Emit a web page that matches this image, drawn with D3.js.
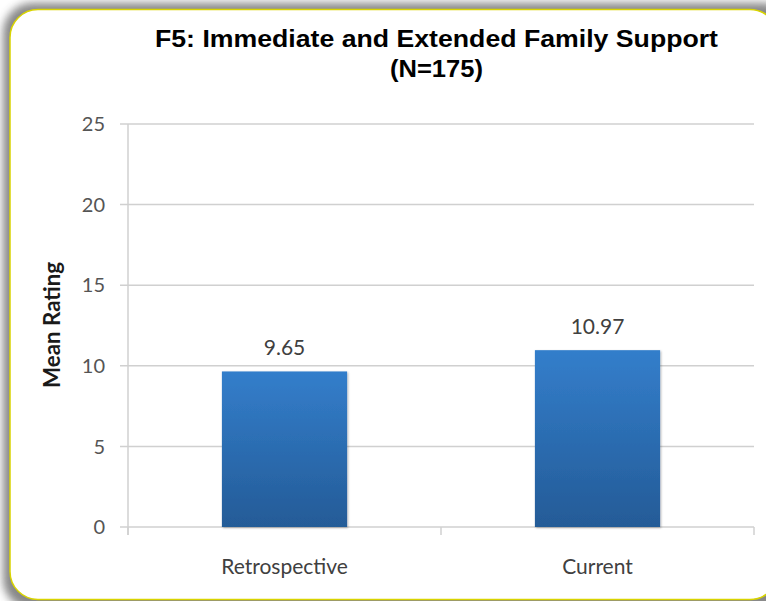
<!DOCTYPE html>
<html>
<head>
<meta charset="utf-8">
<script src="https://cdn.jsdelivr.net/npm/d3@7"></script>
<style>
  html, body { margin: 0; padding: 0; background: #ffffff; }
  svg { display: block; }
</style>
</head>
<body>
<svg id="chart" width="766" height="601"></svg>
<script>
// Chart data
const categories = ["Retrospective", "Current"];
const meanRatings = [9.65, 10.97];
const yTicks = [0, 5, 10, 15, 20, 25];
const titleLines = ["F5: Immediate and Extended Family Support", "(N=175)"];
const yAxisLabel = "Mean Rating";

const W = 766, H = 601;
const plot = { left: 128, right: 754, top: 124, bottom: 527 };

const svg = d3.select("#chart");
const defs = svg.append("defs");

// soft shadow around the card
const cardShadow = defs.append("filter").attr("id", "cardShadow")
  .attr("x", "-10%").attr("y", "-10%").attr("width", "120%").attr("height", "120%");
cardShadow.append("feGaussianBlur").attr("stdDeviation", 4);

// slight shadow under each bar
const barShadow = defs.append("filter").attr("id", "barShadow")
  .attr("x", "-10%").attr("y", "-10%").attr("width", "120%").attr("height", "120%");
barShadow.append("feDropShadow").attr("dx", 1).attr("dy", 1)
  .attr("stdDeviation", 1).attr("flood-color", "#000").attr("flood-opacity", 0.3);

// vertical blue gradient for bars
const grad = defs.append("linearGradient").attr("id", "barGrad")
  .attr("x1", 0).attr("y1", 0).attr("x2", 0).attr("y2", 1);
grad.append("stop").attr("offset", "0%").attr("stop-color", "#337ecb");
grad.append("stop").attr("offset", "100%").attr("stop-color", "#245b97");

// page background and card
svg.append("rect").attr("width", W).attr("height", H).attr("fill", "#ffffff");
svg.append("rect")
  .attr("x", 3).attr("y", 3).attr("width", 790).attr("height", 606)
  .attr("rx", 30).attr("fill", "#7a7a7a").attr("opacity", 0.9)
  .attr("filter", "url(#cardShadow)");
svg.append("rect")
  .attr("x", 10).attr("y", 9.5).attr("width", 768).attr("height", 590)
  .attr("rx", 28).attr("fill", "#ffffff")
  .attr("stroke", "#d9d400").attr("stroke-width", 1.5);

// scales
const x = d3.scaleBand().domain(categories).range([plot.left, plot.right]).padding(0);
const y = d3.scaleLinear().domain([0, 25]).range([plot.bottom, plot.top]);
const barW = x.bandwidth() * 0.4;

const gridColor = "#d0d0d0";

// horizontal gridlines
svg.append("g").selectAll("line").data(yTicks).join("line")
  .attr("x1", plot.left - 8).attr("x2", plot.right)
  .attr("y1", d => y(d)).attr("y2", d => y(d))
  .attr("stroke", gridColor).attr("stroke-width", 1.5);

// y axis line
svg.append("line")
  .attr("x1", plot.left).attr("x2", plot.left)
  .attr("y1", plot.top).attr("y2", plot.bottom + 8)
  .attr("stroke", gridColor).attr("stroke-width", 1.5);

// x axis category boundary ticks
const boundaries = [plot.left].concat(categories.map(c => x(c) + x.bandwidth()));
svg.append("g").selectAll("line").data(boundaries).join("line")
  .attr("x1", d => d).attr("x2", d => d)
  .attr("y1", plot.bottom).attr("y2", plot.bottom + 8)
  .attr("stroke", gridColor).attr("stroke-width", 1.5);

// y tick labels
svg.append("g").selectAll("text").data(yTicks).join("text")
  .attr("x", 105).attr("y", d => y(d)).attr("dy", "0.36em")
  .attr("text-anchor", "end")
  .attr("font-family", "Lato, 'Open Sans', sans-serif").attr("font-size", 20)
  .attr("fill", "#555555")
  .text(d => d);

// bars
const data = categories.map((c, i) => ({ cat: c, value: meanRatings[i] }));
svg.append("g").selectAll("rect").data(data).join("rect")
  .attr("x", d => x(d.cat) + (x.bandwidth() - barW) / 2)
  .attr("y", d => y(d.value))
  .attr("width", barW)
  .attr("height", d => y(0) - y(d.value))
  .attr("fill", "url(#barGrad)")
  .attr("filter", "url(#barShadow)");

// value labels
svg.append("g").selectAll("text").data(data).join("text")
  .attr("x", d => x(d.cat) + x.bandwidth() / 2)
  .attr("y", d => y(d.value) - 16)
  .attr("text-anchor", "middle")
  .attr("font-family", "Lato, 'Open Sans', sans-serif").attr("font-size", 21)
  .attr("fill", "#404040")
  .text(d => d.value.toFixed(2));

// category labels
svg.append("g").selectAll("text").data(categories).join("text")
  .attr("x", d => x(d) + x.bandwidth() / 2)
  .attr("y", 574)
  .attr("text-anchor", "middle")
  .attr("font-family", "Lato, 'Open Sans', sans-serif").attr("font-size", 21)
  .attr("fill", "#404040")
  .text(d => d);

// y axis title
svg.append("text")
  .attr("transform", "translate(60,325) rotate(-90)")
  .attr("text-anchor", "middle")
  .attr("font-family", "Lato, 'Open Sans', sans-serif").attr("font-size", 22)
  .attr("font-weight", "bold")
  .attr("fill", "#1a1a1a")
  .attr("textLength", 126).attr("lengthAdjust", "spacingAndGlyphs")
  .text(yAxisLabel);

// chart title (wide bold sans)
const titleY = [46.5, 76.5];
const titleW = [563, 93];
titleLines.forEach((t, i) => {
  svg.append("text")
    .attr("x", 436.5).attr("y", titleY[i])
    .attr("text-anchor", "middle")
    .attr("font-family", "'Liberation Sans', Arial, sans-serif")
    .attr("font-size", 23).attr("font-weight", "bold")
    .attr("fill", "#000000")
    .attr("textLength", titleW[i]).attr("lengthAdjust", "spacingAndGlyphs")
    .text(t);
});
</script>
</body>
</html>
